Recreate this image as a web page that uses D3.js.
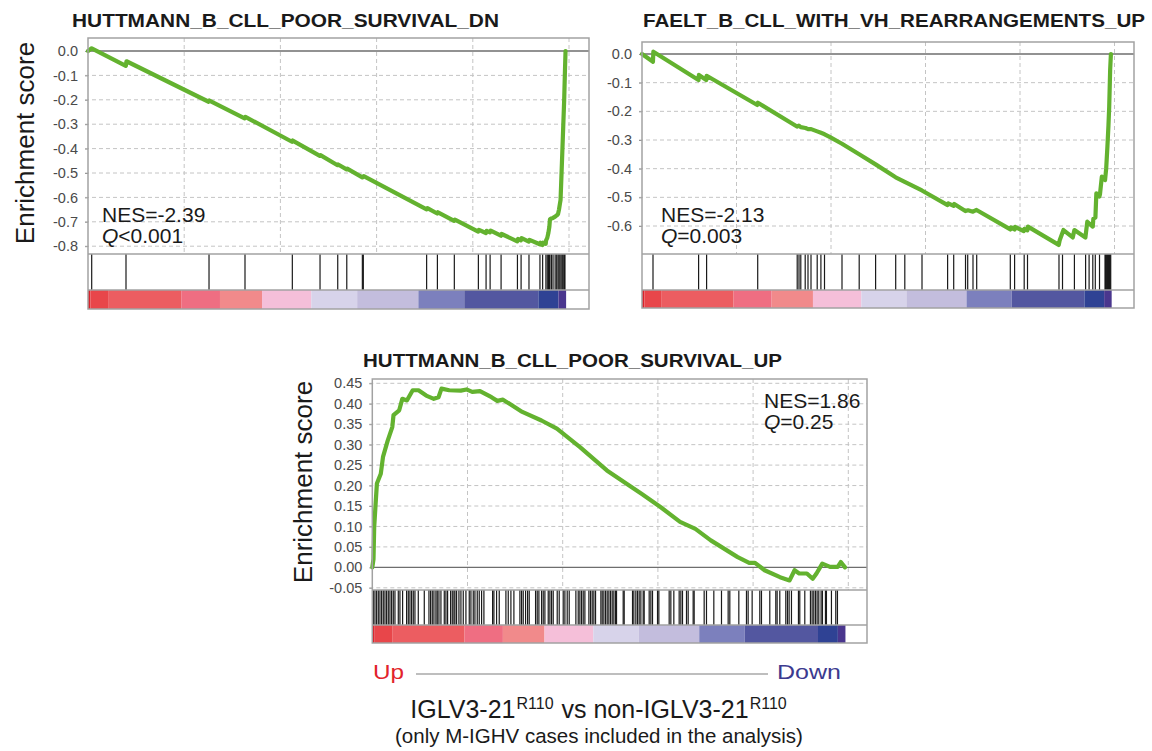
<!DOCTYPE html>
<html>
<head>
<meta charset="utf-8">
<title>GSEA enrichment plots</title>
<script src="https://cdn.jsdelivr.net/npm/d3@7"></script>
<style>
 body { margin: 0; background: #fff; }
 svg text { font-family: Arial, "Liberation Sans", Helvetica, sans-serif; fill: #1a1a1a; }
 .grid line { stroke: #c4c4c4; stroke-width: 1; stroke-dasharray: 4,3; }
 .axis text { font-size: 14.5px; fill: #4a4a4a; }
 .axis line { stroke: #999; }
 .axis path { display: none; }
 .title { font-weight: bold; font-size: 19px; }
 .ylab { font-size: 26px; }
 .stat { font-size: 21px; }
</style>
</head>
<body>
<svg id="chart" width="1152" height="751"></svg>
<script>
// ranked list: 24850 genes, gridlines every 5000
var N = 24850;
var rankTicks = [5000, 10000, 15000, 20000, 25000];

// colour strip under every plot (rank breaks and colours)
var barBreaks = [0, 124, 1044, 4846, 6859, 9045, 11605, 13990, 17171, 19557, 23408, 24452, 24850];
var barColors = ["#d9222b", "#e8464a", "#ec5d61", "#ef6e82", "#f18a8b", "#f5bfd9",
                 "#d7d3ea", "#c3bddd", "#7c80bd", "#5357a0", "#2f4294", "#4a368e"];

// HUTTMANN_B_CLL_POOR_SURVIVAL_DN
var dnTicks = [0, -0.1, -0.2, -0.3, -0.4, -0.5, -0.6, -0.7, -0.8];
var dnLabels = ["0.0", "-0.1", "-0.2", "-0.3", "-0.4", "-0.5", "-0.6", "-0.7", "-0.8"];
var dnCurve = [[0,0],[192,0.011],[1965,-0.061],[2000,-0.042],[6270,-0.208],[6310,-0.203],[8140,-0.276],[8180,-0.270],
  [10600,-0.372],[10640,-0.367],[12050,-0.430],[12080,-0.427],[12970,-0.468],[13000,-0.465],[13440,-0.485],[13470,-0.482],
  [14260,-0.518],[14330,-0.513],[17600,-0.649],[17640,-0.644],[18150,-0.666],[18190,-0.661],[19030,-0.696],[19070,-0.691],
  [20280,-0.740],[20320,-0.733],[20680,-0.746],[20720,-0.737],[20890,-0.743],[20930,-0.736],[21460,-0.757],[21500,-0.750],
  [22310,-0.780],[22350,-0.770],[22500,-0.776],[22540,-0.767],[22910,-0.781],[22950,-0.774],[23480,-0.792],[23520,-0.786],
  [23620,-0.795],[23660,-0.786],[23790,-0.790],[23810,-0.776],[23870,-0.766],[23930,-0.745],[23980,-0.720],[24010,-0.690],
  [24090,-0.686],[24170,-0.684],[24280,-0.679],[24360,-0.674],[24430,-0.668],[24480,-0.650],[24530,-0.625],[24560,-0.611],
  [24590,-0.55],[24650,-0.42],[24700,-0.31],[24750,-0.20],[24790,-0.08],[24820,0.0]];
var dnHits = [192,1975,6290,8160,10620,12060,12980,13450,14260,14310,17600,18160,19040,20290,20690,20900,21470,22320,
  22510,22920,23490,23630,23800,23870,23930,23980,24010,24090,24170,24280,24360,24430,24480,24530,24590,24650,24700,
  24760,24790];

// FAELT_B_CLL_WITH_VH_REARRANGEMENTS_UP
var vhTicks = [0, -0.1, -0.2, -0.3, -0.4, -0.5, -0.6];
var vhLabels = ["0.0", "-0.1", "-0.2", "-0.3", "-0.4", "-0.5", "-0.6"];
var vhCurve = [[0,0],[580,-0.027],[600,0.008],[2990,-0.091],[3010,-0.073],[3400,-0.091],[3420,-0.076],[6100,-0.178],
  [6130,-0.170],[8200,-0.253],[8300,-0.250],[8400,-0.255],[8650,-0.258],[8790,-0.262],[8950,-0.262],[9270,-0.270],
  [9470,-0.275],[9660,-0.280],[9950,-0.290],[10580,-0.313],[11490,-0.350],[12360,-0.385],[13420,-0.430],[13900,-0.446],
  [14810,-0.476],[16170,-0.527],[16200,-0.521],[16490,-0.530],[16520,-0.523],[17110,-0.548],[17250,-0.545],[17510,-0.550],
  [17700,-0.544],[19490,-0.612],[19520,-0.605],[19710,-0.612],[19740,-0.603],[20200,-0.618],[20230,-0.610],[20390,-0.615],
  [20420,-0.602],[22050,-0.666],[22100,-0.650],[22300,-0.614],[22790,-0.640],[22880,-0.614],[23460,-0.640],[23560,-0.585],
  [23850,-0.602],[23880,-0.575],[23990,-0.570],[24040,-0.486],[24200,-0.497],[24230,-0.490],[24330,-0.428],[24500,-0.440],
  [24560,-0.400],[24625,-0.323],[24680,-0.250],[24720,-0.184],[24770,-0.056],[24810,0.0]];
var vhHits = [582,2995,3418,6122,8212,8307,8402,8635,8783,8942,9270,9466,9656,10582,11492,12360,13423,13905,14815,16170,
  16492,17117,17233,17513,17709,19487,19714,20222,20397,22063,22249,22879,23471,23656,23852,23984,24207,24498,24530,
  24560,24590,24620,24650,24680,24710,24740,24770,24800];

// HUTTMANN_B_CLL_POOR_SURVIVAL_UP
var upTicks = [0.45, 0.40, 0.35, 0.30, 0.25, 0.20, 0.15, 0.10, 0.05, 0, -0.05];
var upLabels = ["0.45", "0.40", "0.35", "0.30", "0.25", "0.20", "0.15", "0.10", "0.05", "0.00", "-0.05"];
var upCurve = [[0,0],[63,0.02],[100,0.0985],[163,0.147],[242,0.205],[446,0.229],[562,0.27],[809,0.31],[1050,0.343],
  [1113,0.372],[1413,0.384],[1576,0.412],[1817,0.408],[2122,0.433],[2426,0.433],[2831,0.42],[3230,0.412],[3477,0.416],
  [3634,0.437],[4039,0.433],[4648,0.432],[4947,0.435],[5252,0.429],[5656,0.431],[6260,0.416],[6565,0.407],[6864,0.41],
  [7878,0.38],[8886,0.359],[9695,0.339],[10908,0.294],[12321,0.237],[13335,0.205],[14138,0.18],[15152,0.147],
  [16165,0.111],[16969,0.094],[17778,0.066],[19191,0.025],[19795,0.011],[20100,0.011],[20604,-0.007],[21413,-0.024],
  [21917,-0.032],[22179,-0.007],[22421,-0.015],[22825,-0.015],[23130,-0.028],[23330,-0.015],[23634,0.009],[24039,0.001],
  [24443,0.001],[24606,0.013],[24826,0.0]];
var upHits = [52,140,227,315,402,490,577,665,752,840,927,1015,1102,1190,1365,1452,1592,1802,1890,1977,2065,2152,2240,
  2415,2730,2975,3062,3150,3237,3342,3412,3500,3605,3780,3867,3955,4112,4200,4287,4340,4427,4550,4655,4777,4917,5092,
  5180,5302,5390,5512,5617,5740,5862,6317,6387,6527,6667,7017,7140,7280,7437,7752,7840,7927,8050,8155,8242,8575,8662,
  8750,8890,8977,9065,9240,9327,9415,9502,9712,9817,10027,10115,10237,10342,10692,10815,10902,10990,11077,11165,11375,
  11462,11550,11637,11725,12005,12075,12162,12250,12337,12425,12512,12600,12687,12775,12827,13177,13230,13667,13737,
  13842,13930,14017,14105,14227,14280,14542,14630,14717,14980,15050,15592,15680,15837,16117,16205,16292,16502,16590,
  16852,16905,17430,17552,17937,18340,18690,18777,19250,19652,19740,19950,20352,20440,20877,21192,21262,21402,21717,
  21805,21892,22015,22382,22452,22715,23012,23100,23187,23275,23362,23450,23572,23642,23800,23852,24115,24342,24430];

// caption pieces: [text, superscript?]
var captionParts = [["IGLV3-21", false], ["R110", true], [" vs non-IGLV3-21", false], ["R110", true]];

var svg = d3.select("#chart");

var panels = [
  {title: "HUTTMANN_B_CLL_POOR_SURVIVAL_DN", tx: 72, ty: 27, tw: 427,
   ticks: dnTicks, labels: dnLabels, curve: dnCurve, hits: dnHits,
   left: 88, right: 589, top: 38, esBottom: 254, hitBottom: 290, barBottom: 309, gridStep: 96.2,
   yPix: [51, 246.2], ylab: [33.5, 143],
   nes: "NES=-2.39", q: "<0.001", sx: 102, sy: 222},
  {title: "FAELT_B_CLL_WITH_VH_REARRANGEMENTS_UP", tx: 643, ty: 27, tw: 502,
   ticks: vhTicks, labels: vhLabels, curve: vhCurve, hits: vhHits,
   left: 642, right: 1134, top: 42, esBottom: 254, hitBottom: 290, barBottom: 308, gridStep: 94.5,
   yPix: [54, 226], ylab: null,
   nes: "NES=-2.13", q: "=0.003", sx: 661, sy: 222},
  {title: "HUTTMANN_B_CLL_POOR_SURVIVAL_UP", tx: 363, ty: 367, tw: 419,
   ticks: upTicks, labels: upLabels, curve: upCurve, hits: upHits,
   left: 372.3, right: 867, top: 379, esBottom: 590, hitBottom: 625, barBottom: 643, gridStep: 95.2,
   yPix: [383.3, 587.8], ylab: [312, 482],
   nes: "NES=1.86", q: "=0.25", sx: 764, sy: 408}
];

function drawPanel(p) {
  var g = svg.append("g");
  var x = d3.scaleLinear().domain([0, 25000]).range([p.left, p.left + p.gridStep * 5]);
  var y = d3.scaleLinear().domain([p.ticks[0], p.ticks[p.ticks.length - 1]]).range(p.yPix);

  var grid = g.append("g").attr("class", "grid");
  grid.selectAll(".h").data(p.ticks.filter(function(t) { return t !== 0; }))
    .enter().append("line")
    .attr("x1", p.left - 3).attr("x2", p.right)
    .attr("y1", function(d) { return y(d); }).attr("y2", function(d) { return y(d); });
  grid.selectAll(".v").data(rankTicks)
    .enter().append("line")
    .attr("x1", function(d) { return x(d); }).attr("x2", function(d) { return x(d); })
    .attr("y1", p.top).attr("y2", p.esBottom);

  // zero line
  g.append("line")
    .attr("x1", p.left).attr("x2", p.right)
    .attr("y1", y(0)).attr("y2", y(0))
    .style("stroke", "#6e6e6e").style("stroke-width", 1.4);

  g.append("g")
    .attr("class", "axis")
    .attr("transform", "translate(" + p.left + ",0)")
    .call(d3.axisLeft(y).tickValues(p.ticks)
      .tickFormat(function(d, i) { return p.labels[i]; })
      .tickSize(3).tickPadding(7));

  // colour strip
  g.selectAll(".seg").data(barColors)
    .enter().append("rect")
    .attr("x", function(d, i) { return x(barBreaks[i]); })
    .attr("width", function(d, i) { return x(barBreaks[i + 1]) - x(barBreaks[i]); })
    .attr("y", p.hitBottom).attr("height", p.barBottom - p.hitBottom)
    .style("fill", function(d) { return d; });

  // hit marks
  g.selectAll(".hit").data(p.hits)
    .enter().append("line")
    .attr("x1", function(d) { return x(d); }).attr("x2", function(d) { return x(d); })
    .attr("y1", p.esBottom).attr("y2", p.hitBottom)
    .style("stroke", "#1a1a1a").style("stroke-width", 1.2);

  var line = d3.line()
    .x(function(d) { return x(d[0]); })
    .y(function(d) { return y(d[1]); });
  g.append("path")
    .datum(p.curve)
    .attr("d", line)
    .style("fill", "none")
    .style("stroke", "#63b22f")
    .style("stroke-width", 4.2)
    .style("stroke-linejoin", "round")
    .style("stroke-linecap", "round");

  // frame and separators
  g.append("rect")
    .attr("x", p.left).attr("y", p.top)
    .attr("width", p.right - p.left).attr("height", p.barBottom - p.top)
    .style("fill", "none").style("stroke", "#a2a2a2").style("stroke-width", 1.5);
  [p.esBottom, p.hitBottom].forEach(function(yy) {
    g.append("line")
      .attr("x1", p.left).attr("x2", p.right).attr("y1", yy).attr("y2", yy)
      .style("stroke", "#a2a2a2").style("stroke-width", 1.5);
  });

  g.append("text")
    .attr("class", "title")
    .attr("x", p.tx).attr("y", p.ty)
    .attr("textLength", p.tw).attr("lengthAdjust", "spacingAndGlyphs")
    .text(p.title);

  if (p.ylab) {
    g.append("text")
      .attr("class", "ylab")
      .attr("transform", "translate(" + p.ylab[0] + "," + p.ylab[1] + ") rotate(-90)")
      .style("text-anchor", "middle")
      .text("Enrichment score");
  }

  var st = g.append("text").attr("class", "stat");
  st.append("tspan").attr("x", p.sx).attr("y", p.sy).text(p.nes);
  var ql = st.append("tspan").attr("x", p.sx).attr("y", p.sy + 21);
  ql.append("tspan").style("font-style", "italic").text("Q");
  ql.append("tspan").text(p.q);
}

panels.forEach(drawPanel);

// rank direction under the bottom plot
svg.append("text").attr("x", 373).attr("y", 679)
  .attr("textLength", 31).attr("lengthAdjust", "spacingAndGlyphs")
  .style("font-size", "21px").style("fill", "#e2232b").text("Up");
svg.append("line").attr("x1", 416).attr("x2", 768).attr("y1", 674).attr("y2", 674)
  .style("stroke", "#a8a8a8").style("stroke-width", 1.5);
svg.append("text").attr("x", 777).attr("y", 679)
  .attr("textLength", 64).attr("lengthAdjust", "spacingAndGlyphs")
  .style("font-size", "21px").style("fill", "#3c3a8f").text("Down");

// caption line 1: pieces laid side by side, then centred as a group
var capG = svg.append("g");
var cx = 0;
captionParts.forEach(function(part) {
  var t = capG.append("text")
    .attr("x", cx)
    .attr("y", part[1] ? 709 : 718)
    .style("white-space", "pre")
    .style("font-size", part[1] ? "16px" : "25px")
    .text(part[0]);
  cx += t.node().getComputedTextLength() + 1;
});
capG.attr("transform", "translate(" + (599 - cx / 2) + ",0)");

svg.append("text").attr("x", 599).attr("y", 743)
  .style("text-anchor", "middle").style("font-size", "20.5px")
  .text("(only M-IGHV cases included in the analysis)");
</script>
</body>
</html>
